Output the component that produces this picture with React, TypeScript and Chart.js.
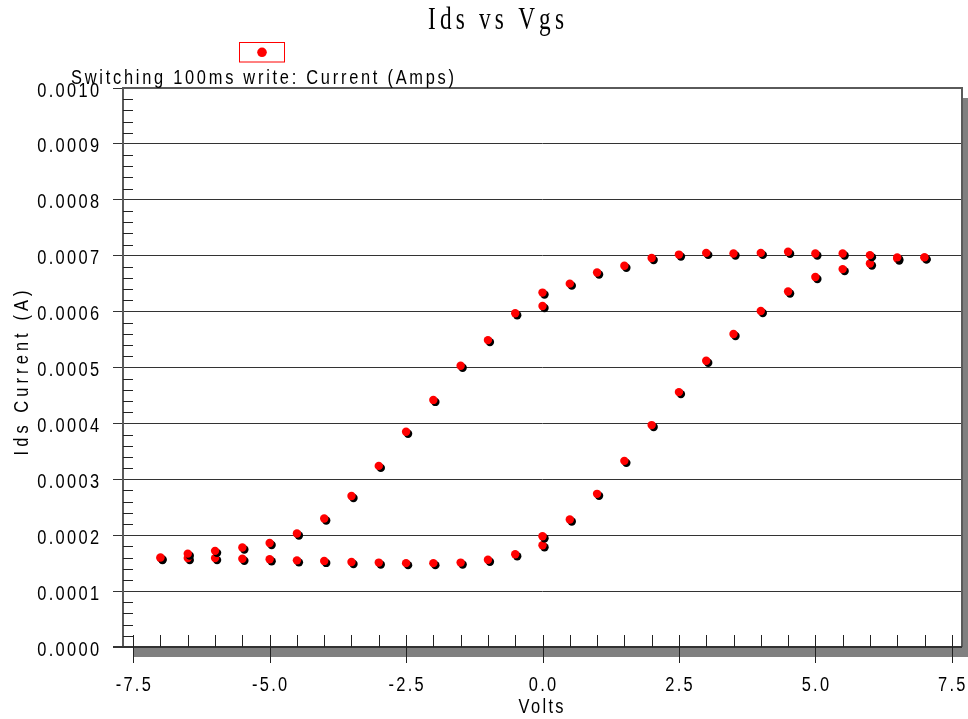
import React, { useEffect, useRef } from 'react';
import { Chart, registerables } from 'chart.js';

Chart.register(...registerables);

// ---- text ----
const CHART_TITLE = 'Ids vs Vgs';
const SERIES_LABEL = 'Switching 100ms write: Current (Amps)';
const X_TITLE = 'Volts';
const Y_TITLE = 'Ids Current (A)';

// ---- data ----
const sweepVolts = [
  -7, -6.5, -6, -5.5, -5, -4.5, -4, -3.5, -3, -2.5, -2, -1.5, -1, -0.5, 0,
  0.5, 1, 1.5, 2, 2.5, 3, 3.5, 4, 4.5, 5, 5.5, 6, 6.5, 7,
];
// lower branch (forward sweep)
const forwardCurrent = [
  0.000159, 0.000159, 0.000159, 0.000158, 0.000157, 0.000155, 0.000154, 0.000152,
  0.000151, 0.00015, 0.00015, 0.000151, 0.000156, 0.000166, 0.000182,
  0.000228, 0.000274, 0.000333, 0.000397, 0.000456, 0.000512, 0.00056, 0.000601,
  0.000636, 0.000662, 0.000676, 0.000686, 0.000695, 0.000697,
];
// upper branch (reverse sweep)
const reverseCurrent = [
  0.00016, 0.000167, 0.000172, 0.000178, 0.000186, 0.000203, 0.00023, 0.00027,
  0.000324, 0.000385, 0.000442, 0.000503, 0.000549, 0.000597, 0.000634,
  0.00065, 0.00067, 0.000682, 0.000696, 0.000702, 0.000705, 0.000704, 0.000705,
  0.000707, 0.000704, 0.000704, 0.000701, 0.000697, 0.000697,
];
// additional readings taken at 0 V
const extraVolts = [0, 0];
const extraCurrent = [0.00061, 0.000198];

const xTickValues = [-7.5, -5, -2.5, 0, 2.5, 5, 7.5];
const yTickValues = [0, 0.0001, 0.0002, 0.0003, 0.0004, 0.0005, 0.0006, 0.0007, 0.0008, 0.0009, 0.001];

const X_MIN = -7.687;
const X_MAX = 7.687;

const SANS = "'Liberation Sans', Arial, sans-serif";
const SERIF = "'Liberation Serif', 'Times New Roman', serif";

type TextOpts = {
  size: number;
  family: string;
  hScale: number;
  spacing?: number;
  width?: number;
  align: 'left' | 'center' | 'right';
  color?: string;
};

function drawSpaced(ctx: CanvasRenderingContext2D, text: string, x: number, y: number, o: TextOpts) {
  ctx.save();
  ctx.font = `${o.size}px ${o.family}`;
  (ctx as any).letterSpacing = '0px';
  ctx.textAlign = 'left';
  ctx.textBaseline = 'alphabetic';
  ctx.fillStyle = o.color || '#000';
  const n = Array.from(text).length;
  const natural = ctx.measureText(text).width * o.hScale;
  let sp = o.spacing ?? 0;
  if (o.width !== undefined && n > 1) sp = (o.width - natural) / (n - 1);
  const total = natural + sp * (n - 1);
  const left = o.align === 'left' ? x : o.align === 'center' ? x - total / 2 : x - total;
  ctx.translate(left, y);
  ctx.scale(o.hScale, 1);
  (ctx as any).letterSpacing = `${sp / o.hScale}px`;
  ctx.fillText(text, 0, 0);
  ctx.restore();
}

const TICK_FONT = { size: 20, family: SANS, hScale: 0.82, spacing: 2.3 };

const decorPlugin = {
  id: 'decor',
  beforeDraw(chart: any) {
    const { ctx, chartArea: ca } = chart;
    ctx.save();
    ctx.fillStyle = '#ffffff';
    ctx.fillRect(0, 0, chart.width, chart.height);
    ctx.fillStyle = '#808080';
    ctx.fillRect(ca.left + 10, ca.top + 10, ca.right - ca.left + 0, ca.bottom - ca.top);
    ctx.fillStyle = '#ffffff';
    ctx.fillRect(ca.left, ca.top, ca.right - ca.left, ca.bottom - ca.top);
    ctx.restore();
  },
  beforeDatasetsDraw(chart: any) {
    const ctx = chart.ctx;
    ctx.save();
    ctx.shadowColor = '#000000';
    ctx.shadowOffsetX = 2;
    ctx.shadowOffsetY = 2;
    ctx.shadowBlur = 0;
  },
  afterDatasetsDraw(chart: any) {
    chart.ctx.restore();
  },
  afterDraw(chart: any) {
    const { ctx, chartArea: ca } = chart;
    const xs = chart.scales.x;
    const ys = chart.scales.y;
    ctx.save();

    // frame
    ctx.strokeStyle = '#5a5a5a';
    ctx.lineWidth = 2;
    ctx.beginPath();
    ctx.moveTo(ca.left, ca.bottom);
    ctx.lineTo(ca.left, ca.top);
    ctx.lineTo(ca.right, ca.top);
    ctx.lineTo(ca.right, ca.bottom);
    ctx.stroke();
    ctx.beginPath();
    ctx.strokeStyle = '#333';
    ctx.moveTo(ca.left - 10, ca.bottom);
    ctx.lineTo(ca.right, ca.bottom);
    ctx.stroke();

    // y minor ticks (inside)
    ctx.strokeStyle = '#222';
    ctx.lineWidth = 1;
    ctx.beginPath();
    for (let i = 0; i < yTickValues.length - 1; i++) {
      const a = yTickValues[i];
      const b = yTickValues[i + 1];
      for (let k = 1; k < 5; k++) {
        const py = Math.round(ys.getPixelForValue(a + ((b - a) * k) / 5)) + 0.5;
        ctx.moveTo(ca.left, py);
        ctx.lineTo(ca.left + 10, py);
      }
    }
    ctx.stroke();

    // x ticks
    ctx.beginPath();
    for (let i = 0; i < xTickValues.length - 1; i++) {
      const a = xTickValues[i];
      const b = xTickValues[i + 1];
      for (let k = 1; k < 5; k++) {
        const px = Math.round(xs.getPixelForValue(a + ((b - a) * k) / 5)) + 0.5;
        ctx.moveTo(px, ca.bottom - 12);
        ctx.lineTo(px, ca.bottom);
      }
    }
    for (const v of xTickValues) {
      const px = Math.round(xs.getPixelForValue(v)) + 0.5;
      ctx.moveTo(px, ca.bottom - 12);
      ctx.lineTo(px, ca.bottom + 16);
    }
    ctx.stroke();

    // tick labels
    for (const v of yTickValues) {
      const py = ys.getPixelForValue(v);
      drawSpaced(ctx, v.toFixed(4), ca.left - 24, py + 8.5, { ...TICK_FONT, align: 'right' });
    }
    for (const v of xTickValues) {
      const px = xs.getPixelForValue(v);
      drawSpaced(ctx, v.toFixed(1), px, ca.bottom + 44, { ...TICK_FONT, align: 'center' });
    }

    // axis titles
    drawSpaced(ctx, X_TITLE, 541, 713, { ...TICK_FONT, spacing: undefined, width: 45, align: 'center' });
    ctx.save();
    ctx.translate(28, 373);
    ctx.rotate(-Math.PI / 2);
    drawSpaced(ctx, Y_TITLE, 0, 0, { ...TICK_FONT, spacing: undefined, width: 165, align: 'center' });
    ctx.restore();

    // chart title
    drawSpaced(ctx, CHART_TITLE, 496, 29, { size: 31, family: SERIF, hScale: 0.75, width: 136, align: 'center' });

    // legend
    ctx.strokeStyle = '#ff0000';
    ctx.lineWidth = 1;
    ctx.strokeRect(239.5, 42.5, 45, 19.5);
    ctx.fillStyle = '#ff0000';
    ctx.beginPath();
    ctx.arc(262, 52.3, 4.8, 0, Math.PI * 2);
    ctx.fill();
    drawSpaced(ctx, SERIES_LABEL, 71, 84, { ...TICK_FONT, spacing: undefined, width: 383, align: 'left' });

    ctx.restore();
  },
};

export default function App() {
  const ref = useRef<HTMLCanvasElement>(null);

  useEffect(() => {
    const canvas = ref.current;
    if (!canvas) return;
    const points = [
      ...sweepVolts.map((v, i) => ({ x: v, y: forwardCurrent[i] })),
      ...sweepVolts.map((v, i) => ({ x: v, y: reverseCurrent[i] })),
      ...extraVolts.map((v, i) => ({ x: v, y: extraCurrent[i] })),
    ];
    const chart = new Chart(canvas, {
      type: 'scatter',
      data: {
        datasets: [
          {
            label: SERIES_LABEL,
            data: points,
            backgroundColor: '#ff0000',
            borderColor: '#ff0000',
            pointRadius: 4.2,
            pointHoverRadius: 4.2,
            pointBorderWidth: 0,
            borderWidth: 0,
          },
        ],
      },
      options: {
        animation: false,
        responsive: false,
        devicePixelRatio: 1,
        events: [],
        layout: { padding: { top: 88, right: 6, left: 0, bottom: 0 } },
        plugins: {
          legend: { display: false },
          title: { display: false },
          tooltip: { enabled: false },
        },
        scales: {
          x: {
            type: 'linear',
            min: X_MIN,
            max: X_MAX,
            grid: { display: false, drawTicks: false },
            border: { display: false },
            ticks: { display: false },
            afterFit: (s: any) => {
              s.height = 72;
            },
          },
          y: {
            type: 'linear',
            min: 0,
            max: 0.001,
            grid: { color: '#333333', lineWidth: 1, tickLength: 10, drawTicks: true },
            border: { display: false },
            ticks: { display: false },
            afterBuildTicks: (s: any) => {
              s.ticks = yTickValues.map((v) => ({ value: v }));
            },
            afterFit: (s: any) => {
              s.width = 123;
            },
          },
        },
      } as any,
      plugins: [decorPlugin],
    });
    return () => chart.destroy();
  }, []);

  return (
    <canvas
      ref={ref}
      width={968}
      height={719}
      style={{ position: 'fixed', left: 0, top: 0, display: 'block', width: 968, height: 719 }}
    />
  );
}
